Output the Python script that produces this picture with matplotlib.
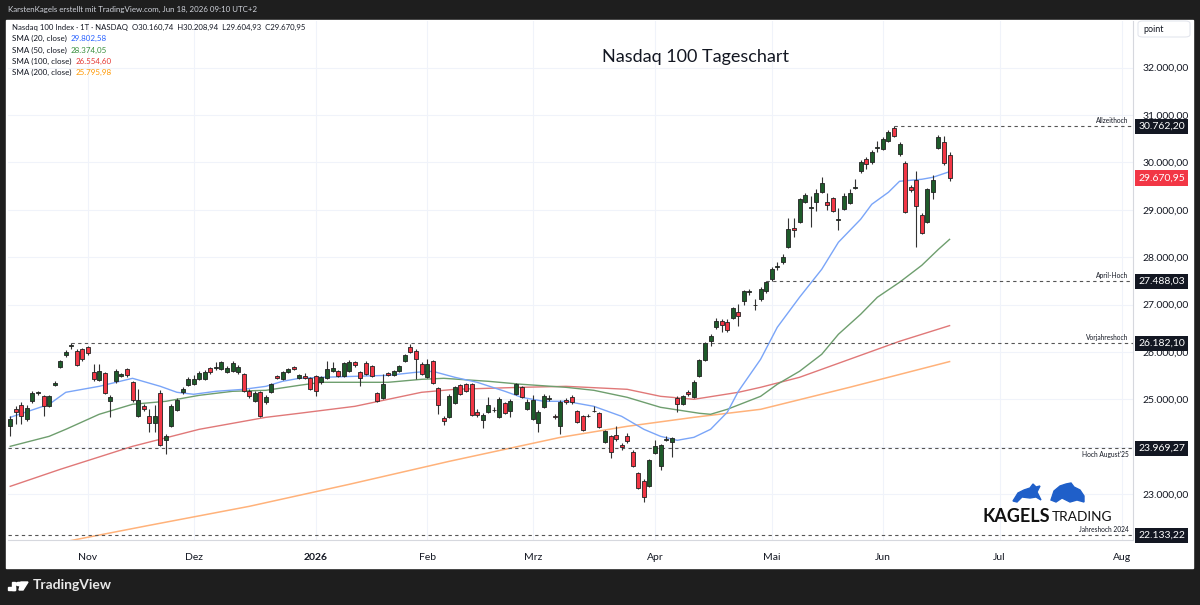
import matplotlib
matplotlib.use("Agg")
import matplotlib.pyplot as plt
from matplotlib.patches import Rectangle, Polygon, Circle, FancyBboxPatch
from matplotlib.ticker import FuncFormatter
from matplotlib.transforms import blended_transform_factory

# ---- daily candles, Oct 14 2025 .. Jun 17 2026 (bar index = trading day) ----
opens = [24430, 24789, 24873, 24578, 24958, 25127, 25063, 24852, 25295, 25675,
         25928, 26118, 26013, 26055, 26097, 25570, 25401, 25549, 24958, 25380,
         25485, 25633, 25359, 24641, 24852, 24641, 24494, 25127, 24135, 24430,
         24768, 25148, 25295, 25317, 25422, 25422, 25654, 25654, 25633, 25570,
         25591, 25570, 25528, 25169, 24958, 25148, 24937, 25148, 25485, 25422,
         25570, 25675, 25443, 25485, 25443, 25485, 25359, 25443, 25591, 25591,
         25485, 25591, 25781, 25570, 25760, 25696, 25127, 25021, 25549, 25506,
         25591, 25802, 26097, 26013, 25739, 25464, 25802, 25232, 24599, 24620,
         24916, 25295, 25317, 25317, 24726, 24557, 24726, 24768, 24620, 24916,
         24747, 25106, 25253, 24789, 24578, 24494, 24831, 25000, 24641, 24430,
         24979, 25042, 24747, 24641, 24641, 24747, 24705, 24093, 24219, 24240,
         24029, 24219, 23882, 23439, 23270, 23164, 23861, 23587, 24145, 24093,
         25021, 24895, 25148, 25042, 25485, 25823, 26224, 26519, 26646, 26625,
         26709, 26836, 27068, 27258, 26983, 27110, 27279, 27532, 27795, 27891,
         28207, 28608, 28735, 29157, 29040, 29157, 29368, 29157, 29241, 28788,
         29009, 29136, 29452, 29811, 30064, 30001, 30307, 30275, 30444, 30718,
         30170, 29980, 29473, 29621, 28882, 28735, 29368, 30296, 30423, 30160.74]
highs = [24641, 24852, 24937, 24873, 25169, 25169, 25084, 25084, 25380, 25823,
         26034, 26182, 26055, 26076, 26118, 25739, 25739, 25570, 25084, 25633,
         25549, 25654, 25380, 25211, 24895, 24789, 24873, 25190, 24262, 24895,
         25021, 25253, 25464, 25506, 25591, 25612, 25675, 25781, 25802, 25696,
         25802, 25717, 25549, 25211, 25169, 25169, 25084, 25338, 25506, 25591,
         25654, 25696, 25528, 25549, 25464, 25506, 25485, 25802, 25781, 25612,
         25781, 25823, 25802, 25591, 25802, 25717, 25148, 25528, 25570, 25612,
         25717, 25950, 26161, 26055, 25781, 25844, 25823, 25253, 24641, 25106,
         25274, 25317, 25338, 25338, 24789, 24705, 25042, 24831, 25042, 24937,
         25000, 25338, 25274, 25000, 25084, 24768, 25106, 25084, 24684, 24979,
         25021, 25084, 24768, 24662, 24684, 24852, 24726, 24346, 24240, 24430,
         24072, 24283, 23924, 23460, 23312, 23734, 24135, 24051, 24219, 24198,
         25063, 25084, 25190, 25401, 25844, 26203, 26372, 26709, 26688, 26688,
         26941, 27004, 27300, 27321, 27110, 27363, 27488, 27785, 27891, 28060,
         28819, 28819, 29241, 29347, 29283, 29431, 29684, 29347, 29262, 29030,
         29347, 29431, 29642, 30043, 30106, 30254, 30444, 30528, 30676, 30762,
         30423, 30022, 29515, 29811, 28925, 29452, 29726, 30570, 30549, 30208.94]
lows = [24219, 24473, 24473, 24536, 24916, 25084, 24641, 24831, 25274, 25654,
        25886, 26055, 25696, 25802, 25928, 25380, 25380, 25106, 24620, 25338,
        25464, 25464, 24937, 24620, 24747, 24304, 24304, 24008, 23840, 24409,
        24747, 25106, 25274, 25295, 25401, 25401, 25528, 25612, 25612, 25549,
        25570, 25528, 25148, 25021, 24937, 24620, 24895, 25127, 25422, 25401,
        25549, 25612, 25422, 25422, 25190, 25063, 25317, 25422, 25570, 25464,
        25464, 25570, 25675, 25274, 25506, 25464, 24937, 25000, 25485, 25485,
        25570, 25781, 25971, 25422, 25506, 25443, 25317, 24684, 24451, 24599,
        24895, 25084, 25148, 24641, 24620, 24388, 24705, 24726, 24599, 24684,
        24620, 25084, 25021, 24768, 24557, 24304, 24810, 24958, 24578, 24262,
        24895, 24895, 24494, 24325, 24620, 24726, 24388, 24072, 23755, 24114,
        23924, 24072, 23566, 23101, 22827, 23143, 23840, 23502, 24114, 23776,
        24726, 24873, 25063, 25021, 25464, 25802, 26118, 26477, 26414, 26414,
        26688, 26540, 26983, 27194, 26878, 27068, 27237, 27490, 27722, 27849,
        28186, 28418, 28714, 29136, 28629, 28967, 29347, 28988, 28946, 28566,
        28988, 29114, 29431, 29769, 29853, 29959, 30212, 30254, 30423, 30528,
        30127, 28925, 29368, 28207, 28482, 28714, 29220, 30275, 29938, 29604.93]
closes = [24578, 24726, 24641, 24810, 25127, 25148, 24852, 25063, 25338, 25802,
          25992, 26139, 25717, 25844, 25971, 25422, 25591, 25127, 25042, 25591,
          25528, 25506, 24979, 24979, 24789, 24494, 24641, 24029, 24219, 24852,
          24979, 25211, 25422, 25422, 25549, 25570, 25570, 25675, 25781, 25654,
          25760, 25675, 25169, 25063, 25127, 24641, 25042, 25317, 25443, 25570,
          25633, 25633, 25506, 25443, 25211, 25169, 25464, 25633, 25654, 25485,
          25760, 25781, 25717, 25443, 25528, 25485, 24958, 25317, 25506, 25591,
          25696, 25928, 25992, 25844, 25528, 25739, 25338, 24873, 24536, 25063,
          25253, 25106, 25169, 24662, 24662, 24662, 24873, 24778, 25000, 24705,
          24958, 25317, 25042, 24937, 24979, 24726, 25063, 25021, 24620, 24937,
          24937, 24937, 24515, 24346, 24652, 24757, 24409, 24325, 23882, 24156,
          23987, 24114, 23587, 23122, 22932, 23713, 24008, 24029, 24156, 24177,
          24895, 25063, 25106, 25359, 25823, 26182, 26329, 26646, 26561, 26456,
          26920, 26751, 27279, 27279, 26995, 27321, 27469, 27743, 27806, 27996,
          28587, 28566, 29220, 29304, 29051, 29347, 29558, 29093, 28967, 28798,
          29283, 29347, 29473, 30001, 29959, 30212, 30317, 30486, 30634, 30549,
          30381, 28946, 29410, 29072, 28503, 29431, 29621, 30528, 29980, 29670.95]

# ---- moving averages (bar index, value) ----
sma20_idx = [0, 7, 10, 16, 22, 27, 30, 33, 37, 42, 46, 49, 52, 56, 62, 68, 73, 76, 80, 84,
             89, 92, 96, 100, 105, 110, 114, 117, 120, 123, 126, 129, 131, 135, 138, 142,
             146, 149, 153, 155, 158, 160, 164, 166, 169]
sma20 = [24620, 24895, 25148, 25274, 25443, 25274, 25148, 25106, 25169, 25211, 25274, 25380,
         25443, 25464, 25485, 25506, 25570, 25591, 25464, 25359, 25169, 25042, 24958, 24958,
         24852, 24641, 24367, 24219, 24135, 24198, 24367, 24726, 25169, 25844, 26519, 27152,
         27743, 28313, 28798, 29114, 29368, 29600, 29642, 29684, 29802.58]
sma50_idx = [0, 7, 10, 16, 22, 28, 34, 40, 46, 52, 56, 62, 68, 74, 78, 86, 92, 100, 105, 111,
             117, 124, 126, 129, 135, 138, 142, 146, 149, 153, 156, 160, 164, 167, 169]
sma50 = [24008, 24219, 24367, 24684, 24895, 24958, 25084, 25169, 25190, 25295, 25359, 25359,
         25359, 25422, 25443, 25380, 25317, 25253, 25190, 25042, 24831, 24705, 24684, 24789,
         25063, 25317, 25591, 25950, 26372, 26794, 27152, 27469, 27827, 28165, 28374.05]
sma100_idx = [0, 9, 22, 34, 46, 52, 62, 74, 80, 86, 92, 100, 111, 117, 123, 131, 135, 142,
              151, 160, 169]
sma100 = [23164, 23523, 24008, 24367, 24620, 24705, 24852, 25148, 25211, 25232, 25253, 25274,
          25211, 25063, 25000, 25148, 25253, 25464, 25844, 26224, 26554.60]
sma200_idx = [0, 25, 43, 61, 79, 99, 111, 123, 135, 151, 169]
sma200 = [21772, 22341, 22742, 23207, 23692, 24198, 24430, 24620, 24789, 25253, 25795.98]

# ---- axis labels & marked levels ----
month_idx = [14, 33, 55, 75, 94, 116, 137, 157, 178, 200]
month_lbl = ["Nov", "Dez", "2026", "Feb", "Mrz", "Apr", "Mai", "Jun", "Jul", "Aug"]
level_val = [30762.20, 27488.03, 26182.10, 23969.27, 22133.22]
level_start = [159, 136, 11, -1, -1]
level_name = ["Allzeithoch", "April-Hoch", "Vorjahreshoch", "Hoch August'25", "Jahreshoch 2024"]
last_close = 29670.95

W, H = 1200, 605
def fx(x): return x / W
def fy(y): return 1 - y / H

def de(v):
    return f"{v:,.2f}".replace(",", "X").replace(".", ",").replace("X", ".")

def tick_fmt(v, _):
    # 24.000 sits under the 23.969 marker box on the original
    return "" if round(v) == 24000 else de(v)

plt.rcParams["font.family"] = ["Lato", "DejaVu Sans"]
fig = plt.figure(figsize=(12, 6.05), dpi=100, facecolor="#1e1e1e")
fig.patches.append(Rectangle((fx(6), fy(568)), fx(1187), (568 - 20) / H,
                             transform=fig.transFigure, color="white", zorder=-10))

ax = fig.add_axes([fx(8), fy(540), fx(1125), (540 - 21) / H])
ax.set_zorder(1)
ax.set_facecolor("white")
ax.set_xlim(-0.4, 202)
ax.set_ylim(22032, 32981)

idx = list(range(len(closes)))
up = [c >= o for o, c in zip(opens, closes)]
body_col = ["#1e5b2a" if u else "#f23645" for u in up]
ax.vlines(idx, lows, highs, color="#333333", lw=0.8, zorder=3)
ax.bar(idx, [max(abs(c - o), 12) for o, c in zip(opens, closes)],
       bottom=[min(o, c) for o, c in zip(opens, closes)], width=0.72,
       color=body_col, edgecolor="#222222", linewidth=0.6, zorder=4)

ax.plot(sma200_idx, sma200, color="#ffb27a", lw=1.1, zorder=2)
ax.plot(sma100_idx, sma100, color="#e07878", lw=1.0, zorder=2)
ax.plot(sma50_idx, sma50, color="#6e9e6e", lw=1.0, zorder=2)
ax.plot(sma20_idx, sma20, color="#7aa5f8", lw=1.0, zorder=2)

for v, s, name in zip(level_val, level_start, level_name):
    ax.hlines(v, max(s, -0.4), 202, color="#555555", lw=0.8, linestyles=(0, (3, 3)), zorder=2)
    below = name.startswith("Hoch")
    ax.text(201.2, v + (-55 if below else 55), name, ha="right",
            va="top" if below else "bottom", fontsize=4.8, color="#131722", zorder=5)

ax.set_yticks(range(23000, 33000, 1000))
ax.yaxis.tick_right()
ax.yaxis.set_major_formatter(FuncFormatter(tick_fmt))
ax.set_xticks(month_idx)
ax.set_xticklabels(month_lbl)
ax.get_xticklabels()[2].set_fontweight("bold")
ax.tick_params(axis="both", length=0, labelsize=7.5, colors="#131722")
ax.tick_params(axis="y", pad=7)
ax.tick_params(axis="x", pad=9)
ax.grid(color="#f0f3fa", lw=0.8, zorder=0)
for s in ["top", "left"]:
    ax.spines[s].set_visible(False)
ax.spines["right"].set_color("#d6d8de")
ax.spines["bottom"].set_color("#d6d8de")

trans = blended_transform_factory(ax.transAxes, ax.transData)
for v in level_val:
    ax.text(1.0045, v, de(v), transform=trans, ha="left", va="center", fontsize=7.5,
            color="white", clip_on=False, zorder=10,
            bbox=dict(boxstyle="square,pad=0.3", fc="#131722", ec="none"))
ax.text(1.0045, last_close, de(last_close), transform=trans, ha="left", va="center",
        fontsize=7.5, color="white", clip_on=False, zorder=10,
        bbox=dict(boxstyle="square,pad=0.3", fc="#f23645", ec="none"))

# "point" unit box above the price scale
fig.patches.append(FancyBboxPatch((fx(1138), fy(37)), fx(52), 16 / H,
                                  boxstyle="round,pad=0,rounding_size=0.004",
                                  transform=fig.transFigure, fc="white", ec="#e0e3eb",
                                  lw=0.7, zorder=5))
fig.text(fx(1143), fy(29), "point", fontsize=6.5, color="#131722", va="center", zorder=6)

# title & legend
fig.text(fx(696), fy(57), "Nasdaq 100 Tageschart", ha="center", va="center",
         fontsize=13, color="#131722")
fig.text(fx(8), fy(9.5), "KarstenKagels erstellt mit TradingView.com, Jun 18, 2026 09:10 UTC+2",
         fontsize=5.7, color="#d1d4dc", va="center")
fig.text(fx(12), fy(27), "Nasdaq 100 Index · 1T · NASDAQ  O30.160,74  H30.208,94  L29.604,93  C29.670,95",
         fontsize=5.6, color="#131722", va="center")
sma_rows = [("SMA (20, close)", "29.802,58", "#2962ff", 38.5),
            ("SMA (50, close)", "28.374,05", "#388e3c", 50),
            ("SMA (100, close)", "26.554,60", "#e53935", 61),
            ("SMA (200, close)", "25.795,98", "#ff9800", 72)]
fig.canvas.draw()
renderer = fig.canvas.get_renderer()
for lab, val, col, y in sma_rows:
    t = fig.text(fx(12), fy(y), lab, fontsize=5.8, color="#131722", va="center")
    bb = t.get_window_extent(renderer=renderer)
    fig.text(fx(bb.x1 + 4), fy(y), val, fontsize=5.8, color=col, va="center")

# Kagels Trading logo
fig.text(fx(983), fy(517), "KAGELS", fontsize=13, fontweight="bold", color="#111111", va="center")
fig.text(fx(1052), fy(517), "TRADING", fontsize=9.8, color="#111111", va="center")
bull = [(1013, 501), (1018, 493), (1024, 490), (1030, 488), (1033, 484), (1036, 487),
        (1040, 486), (1037, 492), (1041, 500), (1036, 497), (1030, 498), (1022, 497), (1017, 502)]
bear = [(1051, 500), (1054, 491), (1060, 486), (1066, 484), (1071, 483), (1074, 487),
        (1080, 490), (1084, 496), (1084, 502), (1077, 500), (1070, 502), (1062, 498), (1056, 502)]
for shape in (bull, bear):
    fig.patches.append(Polygon([(fx(x), fy(y)) for x, y in shape], closed=True,
                               transform=fig.transFigure, color="#1f5fc9", zorder=5))

# TradingView footer
fig.patches.append(Rectangle((fx(8), fy(590)), fx(7), 3 / H, transform=fig.transFigure,
                             color="white", zorder=5))
fig.patches.append(Rectangle((fx(12), fy(590)), fx(3), 8 / H, transform=fig.transFigure,
                             color="white", zorder=5))
fig.patches.append(Circle((fx(19), fy(584)), 1.6 / H, transform=fig.transFigure,
                          color="white", zorder=5))
fig.patches.append(Polygon([(fx(21), fy(582)), (fx(28), fy(582)), (fx(23), fy(590)),
                            (fx(19), fy(590))], closed=True, transform=fig.transFigure,
                           color="white", zorder=5))
fig.text(fx(33), fy(585), "TradingView", fontsize=10, fontweight="bold", color="#e8e8e8",
         va="center")

fig.savefig("out.png", dpi=100, facecolor=fig.get_facecolor())
